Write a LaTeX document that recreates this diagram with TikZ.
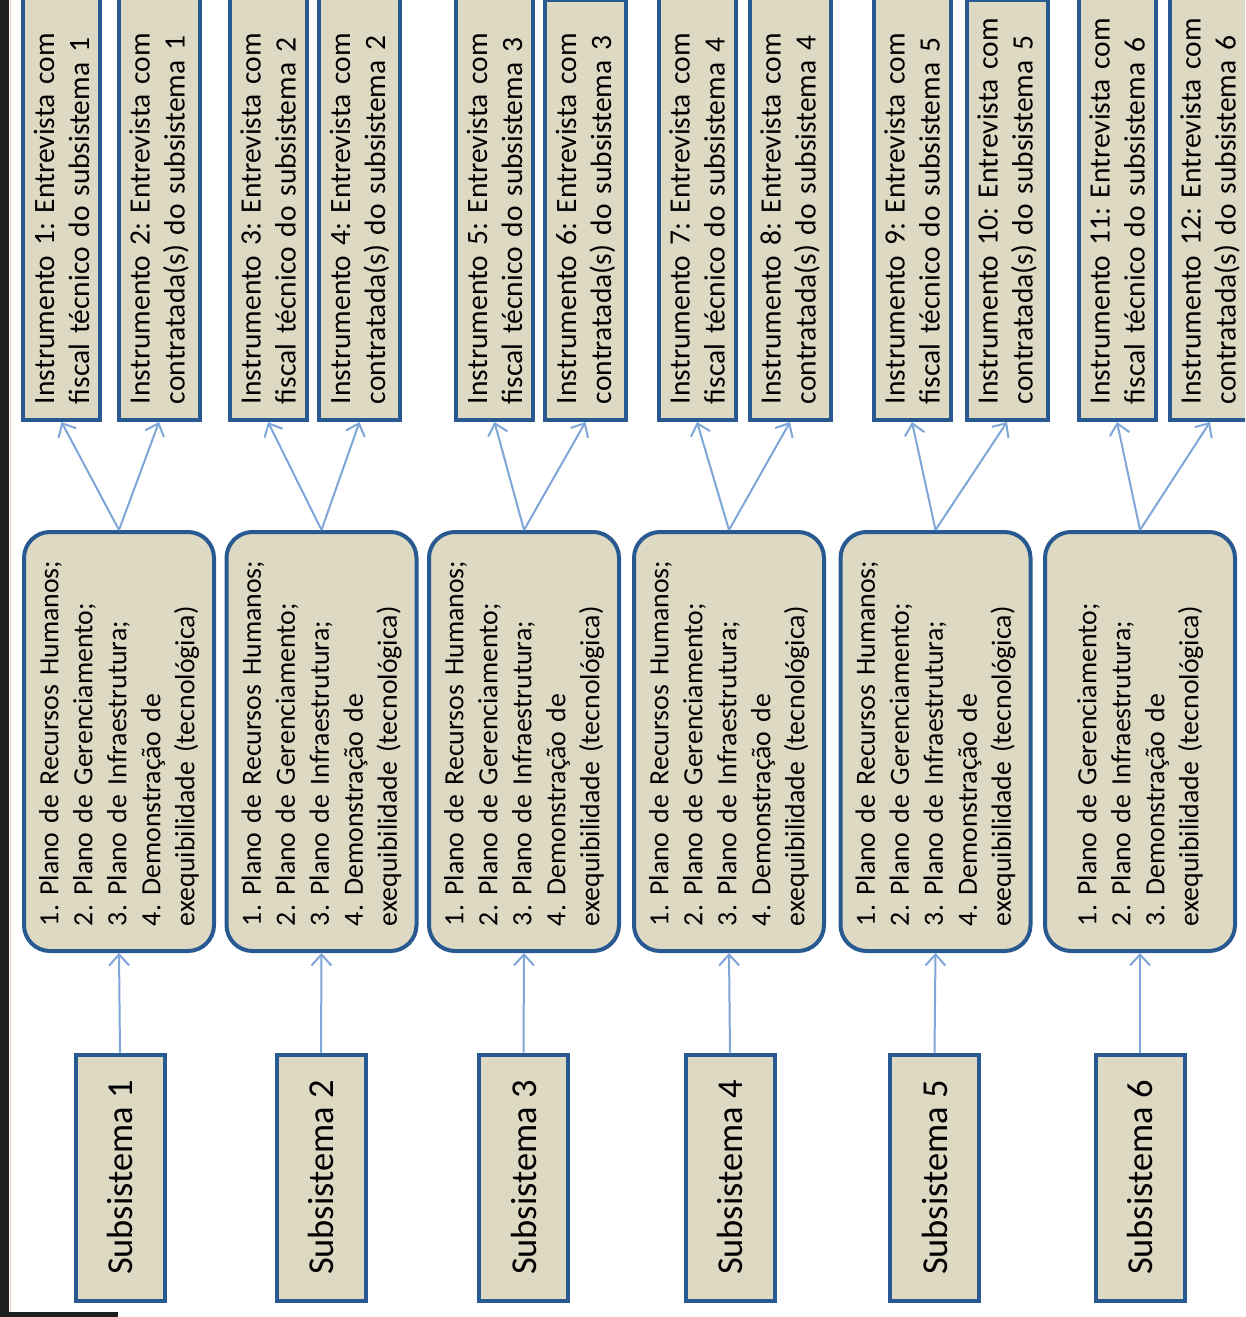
\documentclass[tikz,border=0pt]{standalone}
\usepackage{fontspec}
\setmainfont{Carlito}
\usetikzlibrary{arrows.meta}
\definecolor{caixa}{RGB}{221,217,195}
\definecolor{borda}{RGB}{40,90,145}
\definecolor{seta}{RGB}{126,166,216}
\tikzset{
  instr/.style={draw=borda, line width=4pt, fill=caixa, rotate=90, anchor=west,
    inner xsep=16pt, inner ysep=0pt, text width=400pt, align=left,
    font=\fontsize{29.5}{35}\selectfont\frenchspacing},
  plano/.style={draw=borda, line width=4pt, fill=caixa, rotate=90, rounded corners=26pt,
    minimum height=190pt, inner xsep=25pt, inner ysep=0pt, text width=369pt, align=left,
    font=\fontsize{27.8}{34}\selectfont\frenchspacing},
  subs/.style={draw=borda, line width=4pt, fill=caixa, rotate=90,
    minimum width=246pt, minimum height=89pt, inner sep=0pt,
    font=\fontsize{36.5}{40}\selectfont},
  seta/.style={draw=seta, line width=2pt, -{Straight Barb[length=11pt,width=20pt]}}
}
\begin{document}
\begin{tikzpicture}[x=1pt,y=-1pt]
\useasboundingbox (0,0) rectangle (1245,1317);
\clip (0,0) rectangle (1245,1317);
\fill[white] (0,0) rectangle (1245,1317);
\fill[black!88] (0,0) rectangle (9,1317);
\draw[color={rgb,255:red,240;green,205;blue,195}, line width=1pt] (10,0) -- (10,1312);
\fill[black!88] (9,1312) rectangle (118,1317);

\node[instr, minimum height=77pt] (I1) at (61.5,422) {Instrumento 1: Entrevista com\\fiscal técnico do subsistema 1};
\node[instr, minimum height=81pt] (I2) at (159,422) {Instrumento 2: Entrevista com\\contratada(s) do subsistema 1};
\node[instr, minimum height=77pt] (I3) at (268,422) {Instrumento 3: Entrevista com\\fiscal técnico do subsistema 2};
\node[instr, minimum height=81pt] (I4) at (359.5,422) {Instrumento 4: Entrevista com\\contratada(s) do subsistema 2};
\node[instr, minimum height=77pt] (I5) at (494.5,422) {Instrumento 5: Entrevista com\\fiscal técnico do subsistema 3};
\node[instr, minimum height=81pt, text width=388pt] (I6) at (585.5,422) {Instrumento 6: Entrevista com\\contratada(s) do subsistema 3};
\node[instr, minimum height=77pt] (I7) at (697,422) {Instrumento 7: Entrevista com\\fiscal técnico do subsistema 4};
\node[instr, minimum height=81pt] (I8) at (790,422) {Instrumento 8: Entrevista com\\contratada(s) do subsistema 4};
\node[instr, minimum height=77pt] (I9) at (912,422) {Instrumento 9: Entrevista com\\fiscal técnico do subsistema 5};
\node[instr, minimum height=81pt, text width=388pt] (I10) at (1007,422) {Instrumento 10: Entrevista com\\contratada(s) do subsistema 5};
\node[instr, minimum height=77pt] (I11) at (1117,422) {Instrumento 11: Entrevista com\\fiscal técnico do subsistema 6};
\node[instr, minimum height=81pt] (I12) at (1210,422) {Instrumento 12: Entrevista com\\contratada(s) do subsistema 6};

\node[plano] (P1) at (119,741.5) {1. Plano de Recursos Humanos;\\2. Plano de Gerenciamento;\\3. Plano de Infraestrutura;\\4. Demonstração de\\exequibilidade (tecnológica)};
\node[plano] (P2) at (321.5,741.5) {1. Plano de Recursos Humanos;\\2. Plano de Gerenciamento;\\3. Plano de Infraestrutura;\\4. Demonstração de\\exequibilidade (tecnológica)};
\node[plano] (P3) at (524,741.5) {1. Plano de Recursos Humanos;\\2. Plano de Gerenciamento;\\3. Plano de Infraestrutura;\\4. Demonstração de\\exequibilidade (tecnológica)};
\node[plano] (P4) at (729,741.5) {1. Plano de Recursos Humanos;\\2. Plano de Gerenciamento;\\3. Plano de Infraestrutura;\\4. Demonstração de\\exequibilidade (tecnológica)};
\node[plano] (P5) at (935.5,741.5) {1. Plano de Recursos Humanos;\\2. Plano de Gerenciamento;\\3. Plano de Infraestrutura;\\4. Demonstração de\\exequibilidade (tecnológica)};
\node[plano] (P6) at (1140,741.5) {1. Plano de Gerenciamento;\\2. Plano de Infraestrutura;\\3. Demonstração de\\exequibilidade (tecnológica)};

\node[subs] (S1) at (120,1177.5) {Subsistema 1};
\node[subs] (S2) at (321,1177.5) {Subsistema 2};
\node[subs] (S3) at (523.5,1177.5) {Subsistema 3};
\node[subs] (S4) at (730,1177.5) {Subsistema 4};
\node[subs] (S5) at (934.5,1177.5) {Subsistema 5};
\node[subs] (S6) at (1140,1177.5) {Subsistema 6};

\draw[seta] (S1.east) -- (P1.west);
\draw[seta] (S2.east) -- (P2.west);
\draw[seta] (S3.east) -- (P3.west);
\draw[seta] (S4.east) -- (P4.west);
\draw[seta] (S5.east) -- (P5.west);
\draw[seta] (S6.east) -- (P6.west);

\draw[seta] (P1.east) -- (I1.west);
\draw[seta] (P1.east) -- (I2.west);
\draw[seta] (P2.east) -- (I3.west);
\draw[seta] (P2.east) -- (I4.west);
\draw[seta] (P3.east) -- (I5.west);
\draw[seta] (P3.east) -- (I6.west);
\draw[seta] (P4.east) -- (I7.west);
\draw[seta] (P4.east) -- (I8.west);
\draw[seta] (P5.east) -- (I9.west);
\draw[seta] (P5.east) -- (I10.west);
\draw[seta] (P6.east) -- (I11.west);
\draw[seta] (P6.east) -- (I12.west);
\end{tikzpicture}
\end{document}
